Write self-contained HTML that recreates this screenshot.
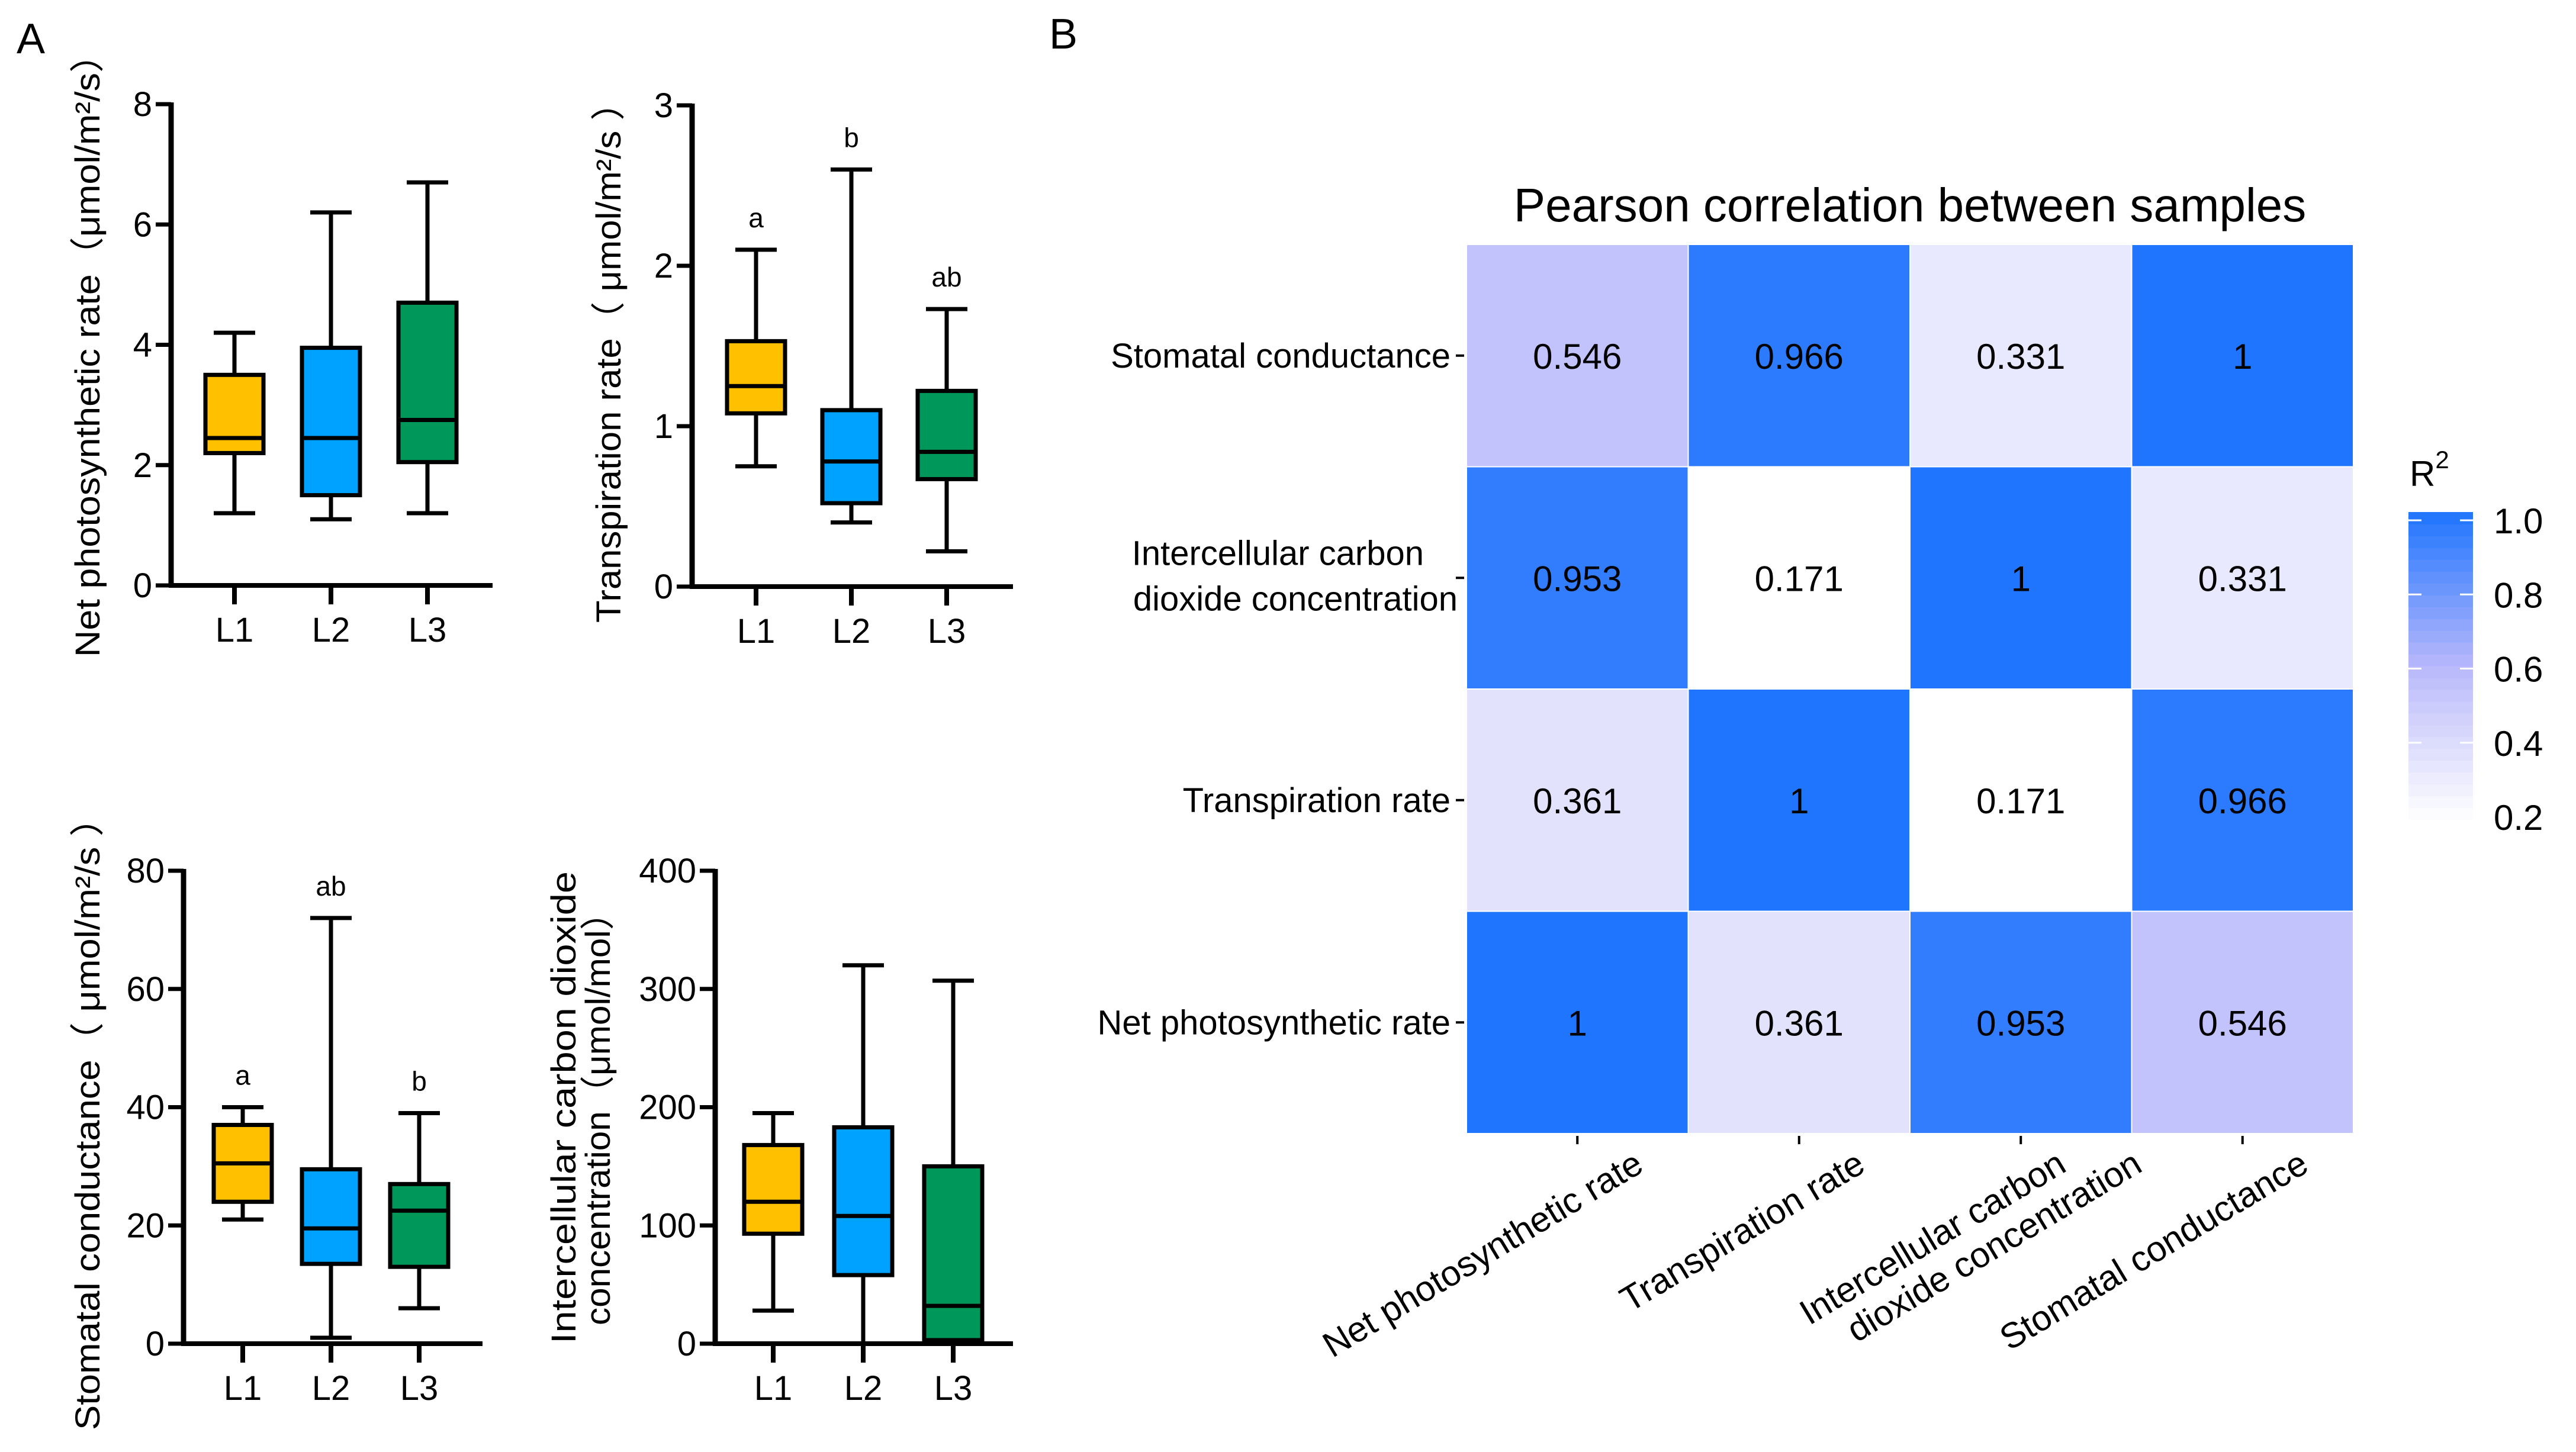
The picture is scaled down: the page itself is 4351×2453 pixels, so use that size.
<!DOCTYPE html>
<html><head><meta charset="utf-8"><style>
html,body{margin:0;padding:0;background:#fff}
svg{display:block}
text{font-family:"Liberation Sans","Noto Sans CJK SC",sans-serif;fill:#000}
</style></head><body>
<svg id="fig" width="4351" height="2453" viewBox="0 0 4351 2453" xmlns="http://www.w3.org/2000/svg">
<text x="28" y="90" font-size="72">A</text>
<text x="1772" y="82" font-size="72">B</text>
<g id="boxes"></g>
<g id="heat"></g>
</svg>
<script>
// ---------- Box plot data ----------
const boxCategories = ["L1","L2","L3"];
const netMin = [1.2,1.1,1.2], netQ1 = [2.2,1.5,2.05], netMed = [2.45,2.45,2.75], netQ3 = [3.5,3.95,4.7], netMax = [4.2,6.2,6.7];
const netTicks = [0,2,4,6,8];
const trMin = [0.75,0.4,0.22], trQ1 = [1.08,0.52,0.67], trMed = [1.25,0.78,0.84], trQ3 = [1.53,1.1,1.22], trMax = [2.1,2.6,1.73];
const trTicks = [0,1,2,3];
const trLetters = ["a","b","ab"];
const scMin = [21,1,6], scQ1 = [24,13.5,13], scMed = [30.5,19.5,22.5], scQ3 = [37,29.5,27], scMax = [40,72,39];
const scTicks = [0,20,40,60,80];
const scLetters = ["a","ab","b"];
const ciMin = [28,0,0], ciQ1 = [93,58,3], ciMed = [120,108,32], ciQ3 = [168,183,150], ciMax = [195,320,307];
const ciTicks = [0,100,200,300,400];
const boxColors = ["#FFC000","#00A2FF","#00985A"];

// ---------- Heatmap data ----------
const heatVars = ["Net photosynthetic rate","Transpiration rate","Intercellular carbon dioxide concentration","Stomatal conductance"];
const rowOrder = [3,2,1,0]; // top to bottom
const corrNetTr = 0.361, corrNetCi = 0.953, corrNetSc = 0.546, corrTrCi = 0.171, corrTrSc = 0.966, corrCiSc = 0.331;
const colorTicks = ["0.2","0.4","0.6","0.8","1.0"];

const NS = "http://www.w3.org/2000/svg";
function mk(tag, attrs, parent){const e=document.createElementNS(NS,tag);for(const k in attrs)e.setAttribute(k,attrs[k]);parent.appendChild(e);return e;}

const bg = document.getElementById('boxes');
function boxChart(cfg){
  const g = mk('g',{},bg);
  
  
  const ymax = cfg.ticks[cfg.ticks.length-1];
  const Y = v => cfg.y0 - (v/ymax)*(cfg.y0-cfg.yTop);
  const X = i => cfg.xs[0] + i*(cfg.xs[1]-cfg.xs[0]);
  const lw = 7;
  const ya = mk('line',{x1:cfg.ax,y1:cfg.yTop-3,x2:cfg.ax,y2:cfg.y0+3,stroke:'#000','stroke-width':9},g);
   
  const xa = mk('line',{x1:cfg.ax-4,y1:cfg.y0,x2:cfg.xEnd,y2:cfg.y0,stroke:'#000','stroke-width':8},g);
   
  cfg.ticks.forEach(t=>{
    const tl = mk('line',{x1:cfg.ax-26,y1:Y(t),x2:cfg.ax,y2:Y(t),stroke:'#000','stroke-width':7},g);
     
    const tx = mk('text',{x:cfg.ax-32,y:Y(t)+20,'font-size':58,'text-anchor':'end'},g);
    tx.textContent = t;
     
  });
  boxCategories.forEach((c,i)=>{
    const x = X(i);
    const tk = mk('line',{x1:x,y1:cfg.y0,x2:x,y2:cfg.y0+32,stroke:'#000','stroke-width':8},g);
     
    const lb = mk('text',{x:x,y:cfg.y0+95,'font-size':58,'text-anchor':'middle'},g);
    lb.textContent = c;
     
    const w = 98, cw = 70;
    const wh = mk('line',{x1:x,y1:Y(cfg.max[i]),x2:x,y2:Y(cfg.min[i]),stroke:'#000','stroke-width':lw},g);
     
    [cfg.max[i],cfg.min[i]].forEach(v=>{
      const cap = mk('line',{x1:x-cw/2,y1:Y(v),x2:x+cw/2,y2:Y(v),stroke:'#000','stroke-width':lw},g);
       
    });
    const bx = mk('rect',{x:x-w/2,y:Y(cfg.q3[i]),width:w,height:Y(cfg.q1[i])-Y(cfg.q3[i]),fill:boxColors[i],stroke:'#000','stroke-width':lw},g);
     
    const md = mk('line',{x1:x-w/2,y1:Y(cfg.med[i]),x2:x+w/2,y2:Y(cfg.med[i]),stroke:'#000','stroke-width':lw},g);
     
    if(cfg.letters){
      const lt = mk('text',{x:x,y:Y(cfg.max[i])-38,'font-size':46,'text-anchor':'middle'},g);
      lt.textContent = cfg.letters[i];
       
    }
  });
  cfg.titles.forEach(t=>{
    const tt = mk('text',{x:0,y:0,'font-size':58,'text-anchor':'middle',transform:`translate(${t.x},${t.y}) rotate(-90)`,textLength:t.len,lengthAdjust:'spacingAndGlyphs'},g);
    tt.textContent = t.s;
     
  });
}
boxChart({name:'net-photosynthetic-chart',ax:289,y0:989,yTop:176,xEnd:832,xs:[396,559],ticks:netTicks,min:netMin,q1:netQ1,med:netMed,q3:netQ3,max:netMax,
  titles:[{s:'Net photosynthetic rate（μmol/m²/s）',x:168,y:585,len:1050}]});
boxChart({name:'transpiration-chart',ax:1169,y0:991,yTop:178,xEnd:1711,xs:[1277,1438],ticks:trTicks,min:trMin,q1:trQ1,med:trMed,q3:trQ3,max:trMax,letters:trLetters,
  titles:[{s:'Transpiration rate（ μmol/m²/s ）',x:1048,y:597,len:910}]});
boxChart({name:'stomatal-conductance-chart',ax:310,y0:2270,yTop:1471,xEnd:815,xs:[410,559],ticks:scTicks,min:scMin,q1:scQ1,med:scMed,q3:scQ3,max:scMax,letters:scLetters,
  titles:[{s:'Stomatal conductance（ μmol/m²/s ）',x:168,y:1883,len:1066}]});
boxChart({name:'intercellular-co2-chart',ax:1208,y0:2270,yTop:1471,xEnd:1711,xs:[1306,1458],ticks:ciTicks,min:ciMin,q1:ciQ1,med:ciMed,q3:ciQ3,max:ciMax,
  titles:[{s:'Intercellular carbon dioxide',x:972,y:1871,len:798},{s:'concentration（μmol/mol）',x:1030,y:1875,len:728}]});

// ---------- Heatmap ----------
const hg = document.getElementById('heat');
const L=2477, R=3975, T=413, B=1915;
const cw=(R-L)/4, ch=(B-T)/4;
function corr(a,b){
  if(a===b) return 1;
  const k=[Math.min(a,b),Math.max(a,b)].join('');
  return {"01":corrNetTr,"02":corrNetCi,"03":corrNetSc,"12":corrTrCi,"13":corrTrSc,"23":corrCiSc}[k];
}
function mix(c1,c2,f){return c1.map((v,i)=>Math.round(v+(c2[i]-v)*f));}
function colorFor(v){
  const t=Math.max(0,Math.min(1,(v-0.2)/0.8));
  const w=[255,255,255], m=[184,184,251], b=[31,117,254];
  const c = t<0.5 ? mix(w,m,t/0.5) : mix(m,b,(t-0.5)/0.5);
  return `rgb(${c[0]},${c[1]},${c[2]})`;
}
const title = mk('text',{x:(L+R)/2,y:374,'font-size':80,'text-anchor':'middle'},hg);
title.textContent='Pearson correlation between samples';
 
rowOrder.forEach((vr,ri)=>{
  for(let ci=0;ci<4;ci++){
    const v=corr(vr,ci);
    const r=mk('rect',{x:L+ci*cw,y:T+ri*ch,width:cw,height:ch,fill:colorFor(v),stroke:'#fff','stroke-width':2},hg);
     
    const tx=mk('text',{x:L+(ci+0.5)*cw,y:T+(ri+0.5)*ch+22,'font-size':60,'text-anchor':'middle'},hg);
    tx.textContent=String(v);
     
  }
  const cy=T+(ri+0.5)*ch;
  const tk=mk('line',{x1:L-18,y1:cy,x2:L-4,y2:cy,stroke:'#000','stroke-width':4},hg);
   
  const name=heatVars[vr];
  if(vr===2){
    const t1=mk('text',{x:2405,y:cy-22,'font-size':58,'text-anchor':'end'},hg);
    t1.textContent='Intercellular carbon';
     
    const t2=mk('text',{x:2462,y:cy+55,'font-size':58,'text-anchor':'end'},hg);
    t2.textContent='dioxide concentration';
     
  } else {
    const t=mk('text',{x:2450,y:cy+20,'font-size':58,'text-anchor':'end'},hg);
    t.textContent=name;
     
  }
});
heatVars.forEach((name,ci)=>{
  const cx=L+(ci+0.5)*cw;
  const tk=mk('line',{x1:cx,y1:B+4,x2:cx,y2:B+18,stroke:'#000','stroke-width':4},hg);
   
  if(ci===2){
    const t=mk('text',{x:0,y:0,'font-size':60,'text-anchor':'end',transform:`translate(${cx+80},${B+62}) rotate(-31)`},hg);
     
    const s1=mk('tspan',{x:0,dy:0},t); s1.textContent='Intercellular carbon';
    const s2=mk('tspan',{x:110,dy:66},t); s2.textContent='dioxide concentration';
  } else {
    const t=mk('text',{x:0,y:0,'font-size':60,'text-anchor':'end',transform:`translate(${cx+115},${B+62}) rotate(-31)`},hg);
    t.textContent=name;
     
  }
});
const cbx=4068, cbw=109, cbT=865, cbB=1384;
const n=26;
for(let i=0;i<n;i++){
  const v=0.2+0.8*(i+0.5)/n;
  const y0=cbB-(i+1)*(cbB-cbT)/n;
  const r=mk('rect',{x:cbx,y:y0,width:cbw,height:(cbB-cbT)/n+1,fill:colorFor(v)},hg);
   
}
colorTicks.forEach(s=>{
  const v=parseFloat(s);
  const y=1380-(v-0.2)/0.8*(1380-879);
  if(v>0.25){
    [[cbx,cbx+22],[cbx+cbw-22,cbx+cbw]].forEach(p=>{
      const l=mk('line',{x1:p[0],y1:y,x2:p[1],y2:y,stroke:'#fff','stroke-width':3},hg);
       
    });
  }
  const t=mk('text',{x:4212,y:y+22,'font-size':60},hg);
  t.textContent=s;
   
});
const rt=mk('text',{x:4070,y:821,'font-size':60},hg);
 
rt.textContent='R';
const sup=mk('tspan',{dy:-30,'font-size':42},rt); sup.textContent='2';
</script>
</body></html>
